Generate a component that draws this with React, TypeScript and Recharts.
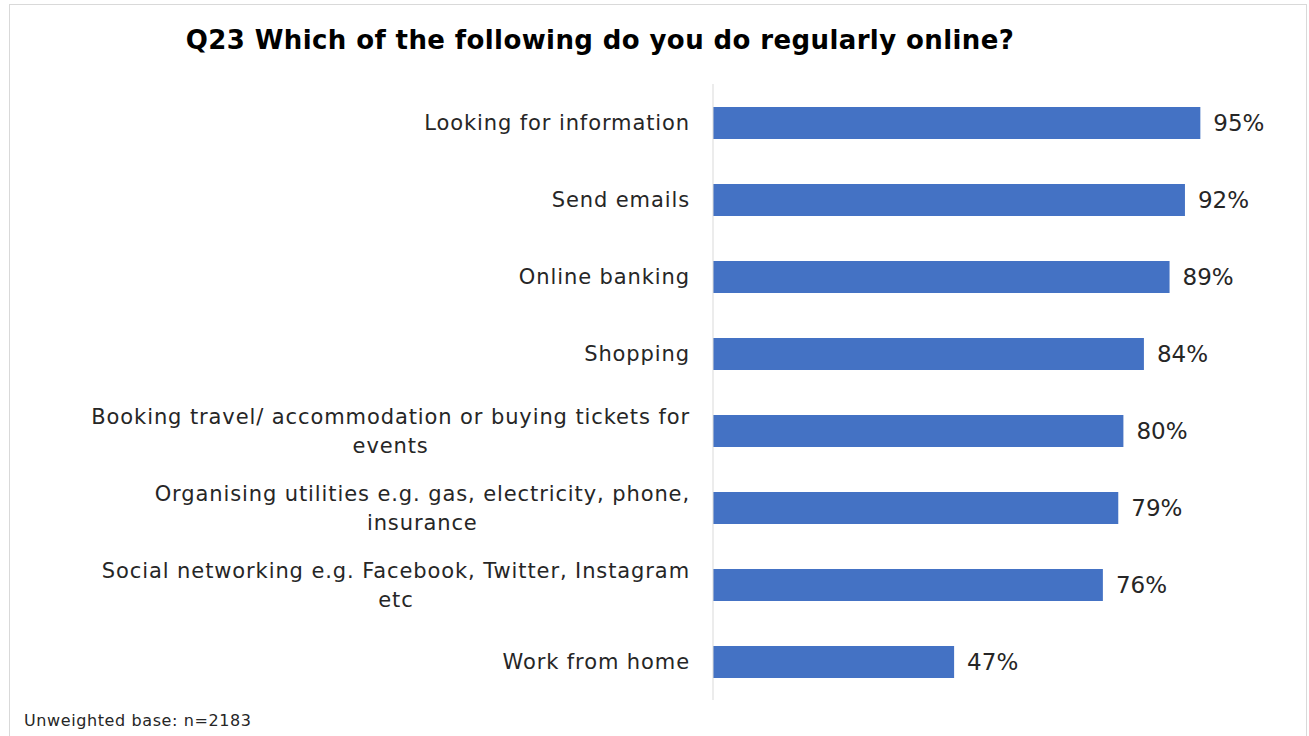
import React from "react";
import { BarChart, Bar, XAxis, YAxis, LabelList } from "recharts";

const activities = [
  "Looking for information",
  "Send emails",
  "Online banking",
  "Shopping",
  "Booking travel/ accommodation or buying tickets for events",
  "Organising utilities e.g. gas, electricity, phone, insurance",
  "Social networking e.g. Facebook, Twitter, Instagram etc",
  "Work from home",
];
const shares = [95, 92, 89, 84, 80, 79, 76, 47];

const chartData = activities.map((name, i) => ({ name, value: shares[i] }));

const FONT = '"Century Gothic", "DejaVu Sans", sans-serif';
const TICK_SIZE = 21;
const TICK_SPACING = 0.9;
const LINE_H = 29;

let measureCtx: CanvasRenderingContext2D | null = null;
function textWidth(s: string) {
  if (!measureCtx) measureCtx = document.createElement("canvas").getContext("2d");
  if (!measureCtx) return s.length * (TICK_SIZE * 0.55 + TICK_SPACING);
  measureCtx.font = `${TICK_SIZE}px ${FONT}`;
  return measureCtx.measureText(s).width + s.length * TICK_SPACING;
}

// break on words, at most 51 characters per line
function wrap(label: string, max = 51) {
  const out: string[] = [];
  let cur = "";
  for (const w of label.split(" ")) {
    const next = cur ? cur + " " + w : w;
    if (next.length > max && cur) {
      out.push(cur);
      cur = w;
    } else cur = next;
  }
  if (cur) out.push(cur);
  return out;
}

function CategoryTick(props: any) {
  const { x, y, payload } = props;
  const lines = wrap(payload.value);
  const blockW = Math.max(...lines.map(textWidth));
  const cx = x - blockW / 2;
  const top = y - ((lines.length - 1) * LINE_H) / 2;
  return (
    <g>
      {lines.map((ln, i) => (
        <text
          key={i}
          x={cx}
          y={top + i * LINE_H}
          dy="0.36em"
          textAnchor="middle"
          fontFamily={FONT}
          fontSize={TICK_SIZE}
          letterSpacing={TICK_SPACING}
          fill="#262626"
        >
          {ln}
        </text>
      ))}
    </g>
  );
}

export default function App() {
  return (
    <div
      style={{
        position: "absolute",
        left: 0,
        top: 0,
        width: 1309,
        height: 736,
        overflow: "hidden",
        background: "#fff",
        fontFamily: FONT,
      }}
    >
      {/* frame */}
      <div
        style={{
          position: "absolute",
          left: 9,
          top: 4,
          width: 1296,
          height: 800,
          border: "1px solid #d9d9d9",
        }}
      />

      {/* Title */}
      <div
        style={{
          position: "absolute",
          left: 0,
          top: 23,
          width: 1200,
          textAlign: "center",
          fontSize: 26,
          letterSpacing: 0.4,
          fontWeight: 700,
          color: "#000",
          lineHeight: "34px",
        }}
      >
        Q23 Which of the following do you do regularly online?
      </div>

      <div style={{ position: "absolute", left: 0, top: 0 }}>
        <BarChart
          width={1309}
          height={736}
          data={chartData}
          layout="vertical"
          margin={{ top: 84, right: 83, bottom: 36, left: 0 }}
        >
          <XAxis type="number" domain={[0, 100]} hide />
          <YAxis
            type="category"
            dataKey="name"
            width={713}
            tickSize={0}
            tickMargin={23}
            axisLine={{ stroke: "#d9d9d9" }}
            tickLine={false}
            tick={<CategoryTick />}
            interval={0}
          />
          <Bar dataKey="value" fill="#4472C4" barSize={32} isAnimationActive={false}>
            <LabelList
              dataKey="value"
              position="right"
              offset={13}
              formatter={(v: any) => `${v}%`}
              style={{ fontFamily: FONT, fontSize: 23, fill: "#262626" }}
            />
          </Bar>
        </BarChart>
      </div>

      {/* Footer */}
      <div
        style={{
          position: "absolute",
          left: 24,
          top: 711,
          fontSize: 16,
          letterSpacing: 0.6,
          color: "#262626",
          lineHeight: "20px",
        }}
      >
        Unweighted base: n=2183
      </div>
    </div>
  );
}
